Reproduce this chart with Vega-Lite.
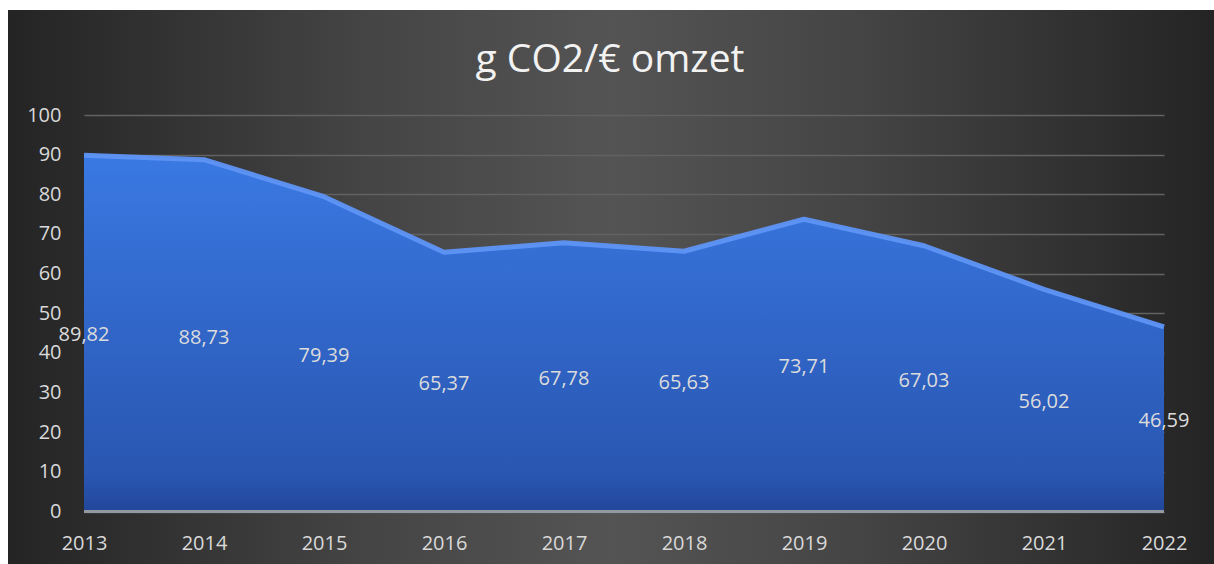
{
  "$schema": "https://vega.github.io/schema/vega-lite/v6.json",
  "autosize": {"type": "fit", "contains": "padding"},
  "width": 1214,
  "height": 564,
  "padding": {"left": 8, "top": 10, "right": 0, "bottom": 0},
  "background": "white",
  "config": {
    "locale": {"number": {"decimal": ",", "thousands": ".", "grouping": [3], "currency": ["€", ""]}},
    "font": "Open Sans",
    "view": {
      "stroke": null,
      "fill": {
        "gradient": "linear", "x1": 0, "y1": 0, "x2": 1, "y2": 0,
        "stops": [
          {"offset": 0, "color": "#242424"},
          {"offset": 0.3, "color": "#454545"},
          {"offset": 0.5, "color": "#545454"},
          {"offset": 0.7, "color": "#454545"},
          {"offset": 1, "color": "#242424"}
        ]
      }
    }
  },
  "title": {
    "text": "g CO2/€ omzet",
    "orient": "none",
    "frame": "group",
    "font": "Open Sans",
    "fontSize": 39,
    "fontWeight": "normal",
    "color": "#f2f2f2",
    "anchor": "middle",
    "align": "center",
    "baseline": "alphabetic",
    "dx": 602,
    "dy": 62
  },
  "data": {
    "values": [
      {"year": 2013, "value": 89.82},
      {"year": 2014, "value": 88.73},
      {"year": 2015, "value": 79.39},
      {"year": 2016, "value": 65.37},
      {"year": 2017, "value": 67.78},
      {"year": 2018, "value": 65.63},
      {"year": 2019, "value": 73.71},
      {"year": 2020, "value": 67.03},
      {"year": 2021, "value": 56.02},
      {"year": 2022, "value": 46.59}
    ]
  },
  "layer": [
    {
      "mark": {
        "type": "area",
        "color": {
          "gradient": "linear", "x1": 0, "y1": 0, "x2": 0, "y2": 1,
          "stops": [
            {"offset": 0, "color": "#3a79e3"},
            {"offset": 0.9, "color": "#2956b1"},
            {"offset": 1, "color": "#22479a"}
          ]
        }
      },
      "encoding": {
        "x": {
          "field": "year", "type": "quantitative",
          "scale": {"domain": [2013, 2022], "range": [76, 1156], "nice": false, "zero": false},
          "axis": {
            "title": null, "values": [2013, 2014, 2015, 2016, 2017, 2018, 2019, 2020, 2021, 2022],
            "format": "d", "grid": false, "domain": false, "ticks": false,
            "labelPadding": 0, "offset": -31, "labelFontSize": 20, "labelColor": "#d9d9d9",
            "labelFont": "Open Sans", "labelFlush": false, "labelOverlap": false
          }
        },
        "y": {
          "field": "value", "type": "quantitative",
          "scale": {"domain": [0, 100], "range": [501.5, 105], "nice": false},
          "axis": {
            "title": null, "values": [0, 10, 20, 30, 40, 50, 60, 70, 80, 90, 100],
            "domain": false, "ticks": false, "labelPadding": 0, "offset": -53,
            "labelFontSize": 20, "labelColor": "#d9d9d9", "labelFont": "Open Sans",
            "grid": true, "gridColor": "#626262", "gridWidth": 1.5,
            "labelFlush": false, "labelOverlap": false
          }
        }
      }
    },
    {
      "mark": {"type": "line", "stroke": "#5e95f6", "strokeWidth": 5, "strokeJoin": "round", "strokeCap": "butt", "opacity": 0.95},
      "encoding": {
        "x": {"field": "year", "type": "quantitative", "scale": {"domain": [2013, 2022], "range": [76, 1156], "nice": false, "zero": false}},
        "y": {"field": "value", "type": "quantitative", "scale": {"domain": [0, 100], "range": [501.5, 105], "nice": false}, "axis": null}
      }
    },
    {
      "mark": {"type": "rule", "stroke": "#9299a3", "strokeWidth": 3},
      "encoding": {
        "x": {"datum": 2013, "type": "quantitative", "scale": {"domain": [2013, 2022], "range": [76, 1156], "nice": false, "zero": false}},
        "x2": {"datum": 2022},
        "y": {"datum": 0, "type": "quantitative", "scale": {"domain": [0, 100], "range": [501.5, 105], "nice": false}, "axis": null}
      }
    },
    {
      "mark": {"type": "text", "fontSize": 20, "color": "#dcdcdc", "align": "center", "baseline": "middle", "font": "Open Sans", "dy": 2},
      "encoding": {
        "x": {"field": "year", "type": "quantitative", "scale": {"domain": [2013, 2022], "range": [76, 1156], "nice": false, "zero": false}},
        "y": {"field": "value", "type": "quantitative", "scale": {"domain": [0, 200], "range": [501.5, 105], "nice": false}, "axis": null},
        "text": {"field": "value", "type": "quantitative", "format": ".2f"}
      }
    }
  ],
  "resolve": {"scale": {"y": "independent"}}
}
